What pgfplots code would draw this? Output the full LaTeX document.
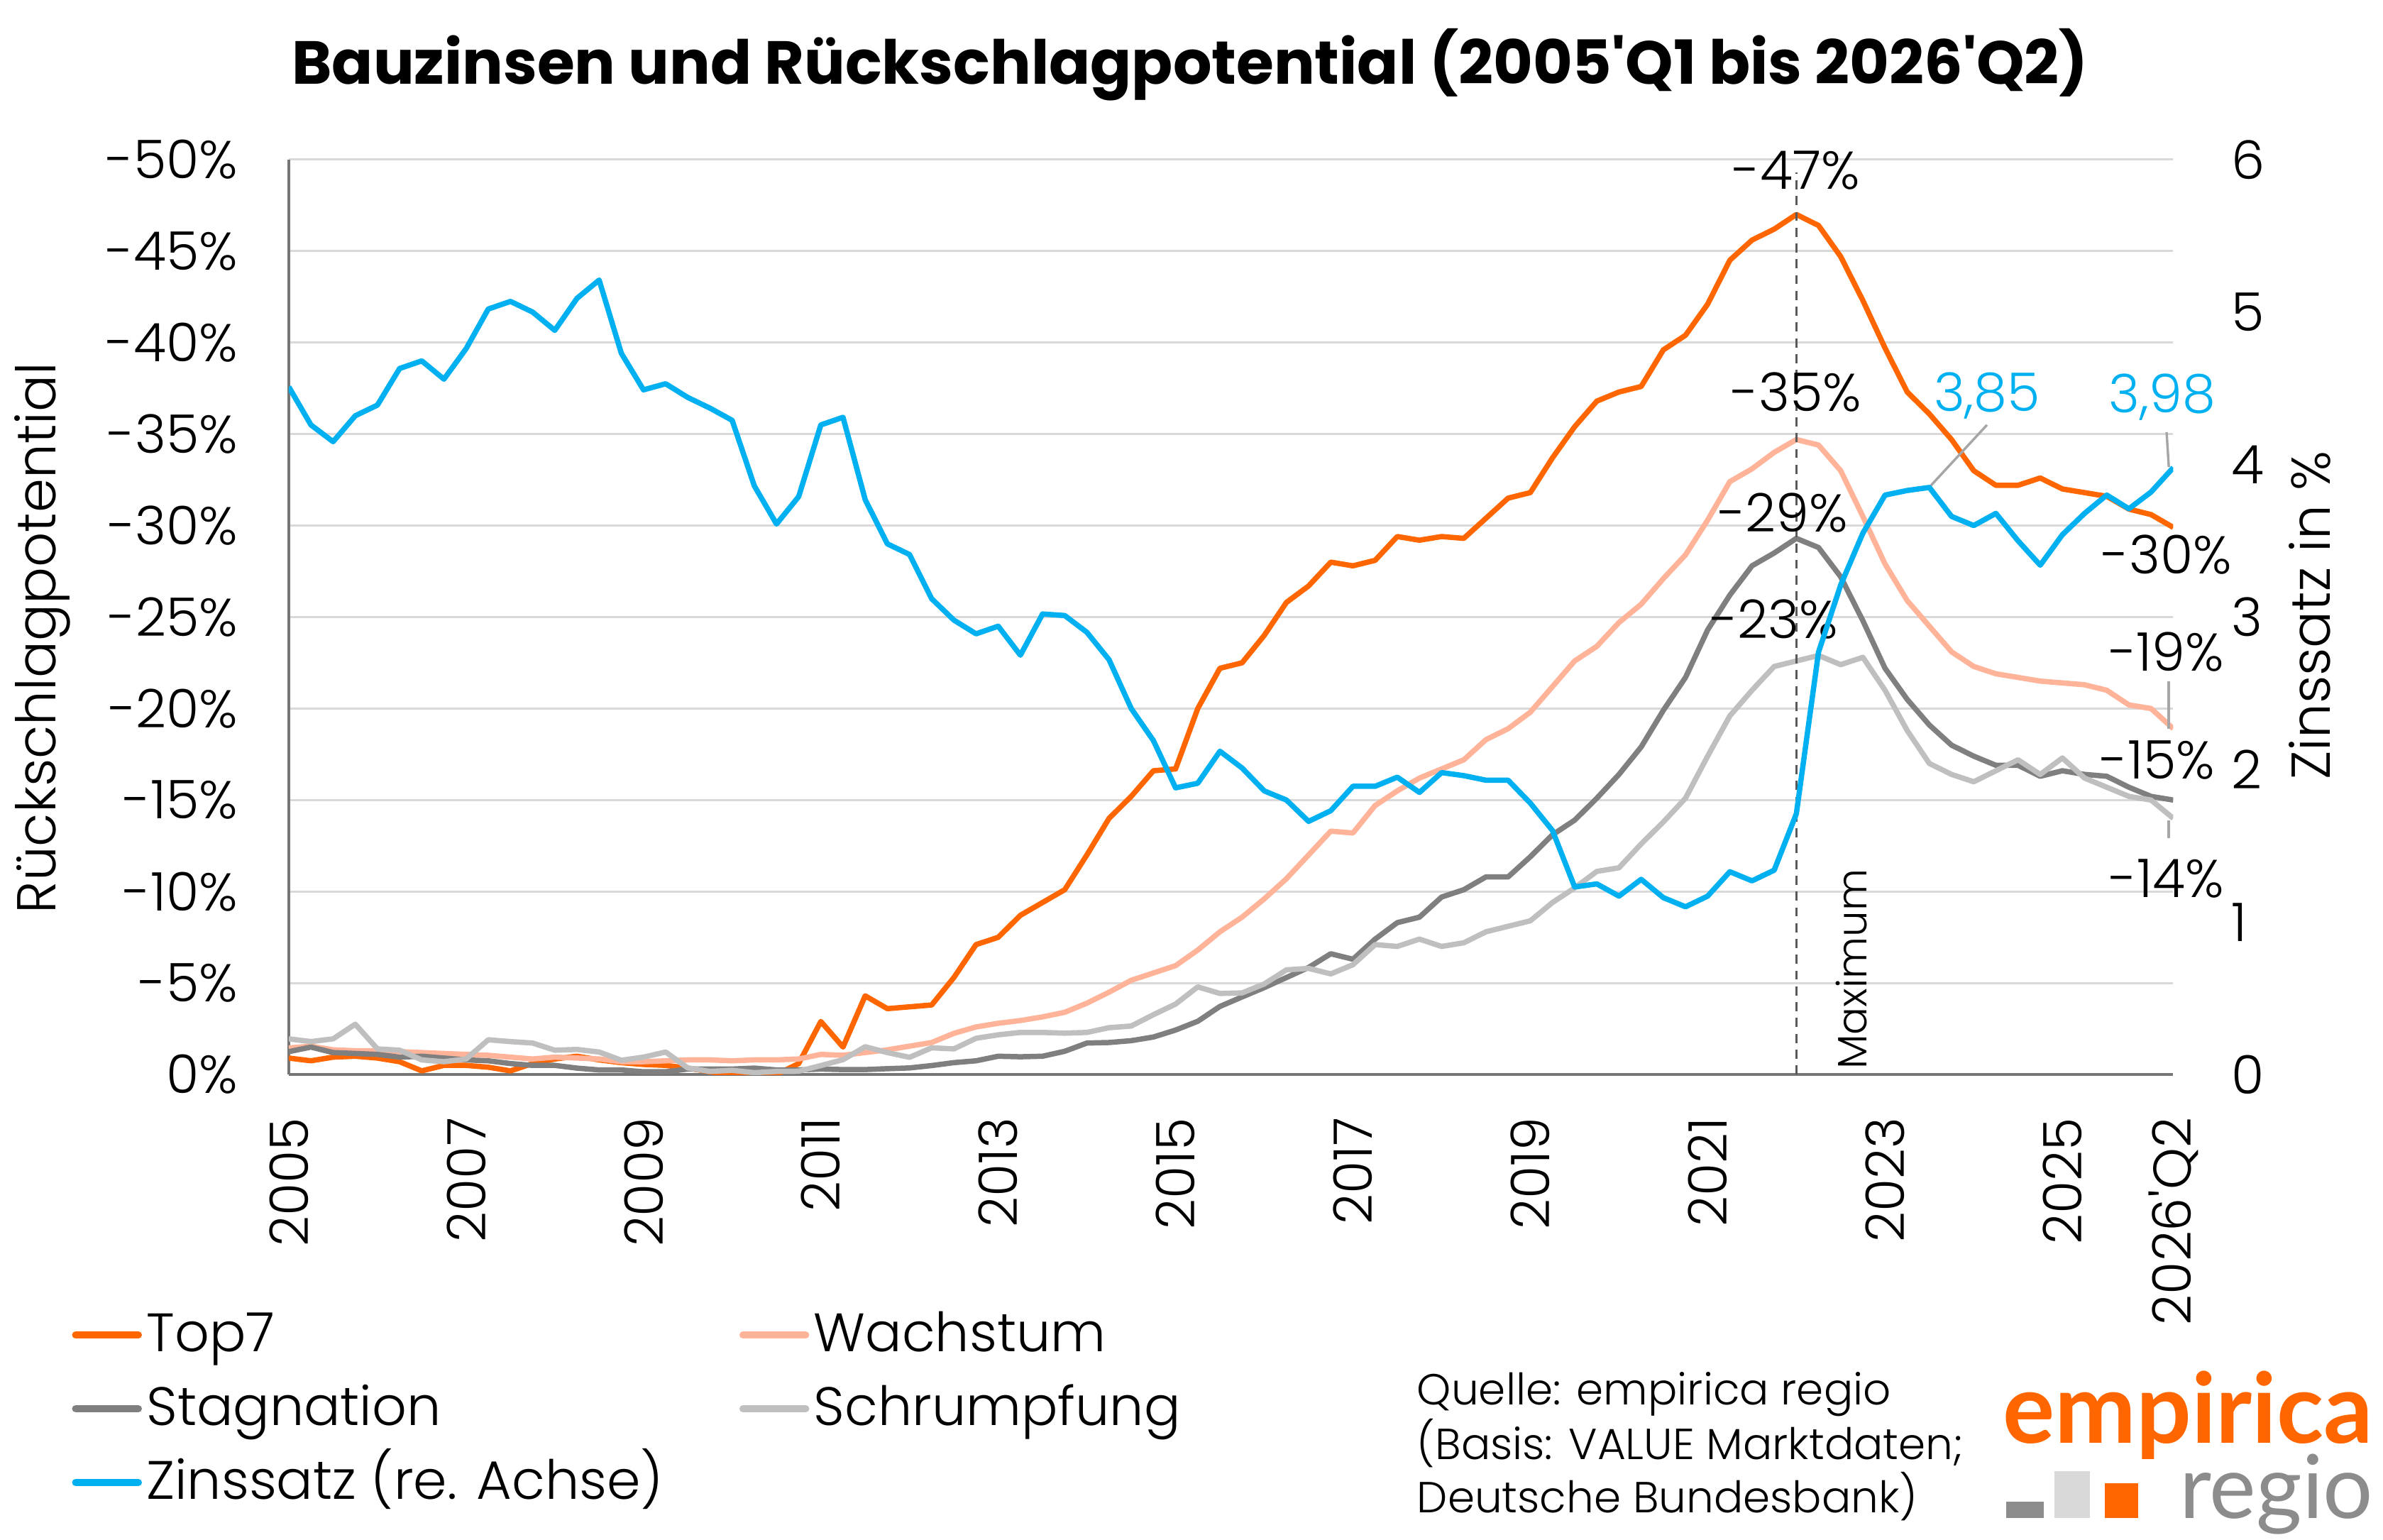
\documentclass[border=0pt]{standalone}
\usepackage{fontspec}
\setmainfont{Poppins}[UprightFont=* Light, BoldFont=* Bold]
\newfontfamily\logofont{Lato}
\usepackage{pgfplots}
\pgfplotsset{compat=1.18}
\usepackage{pgfplotstable}
\definecolor{ctop}{HTML}{FF6600}
\definecolor{cwach}{HTML}{FFB399}
\definecolor{cstag}{HTML}{7F7F7F}
\definecolor{cschr}{HTML}{BFBFBF}
\definecolor{czins}{HTML}{00B0F0}
\definecolor{cgrid}{HTML}{D9D9D9}
\definecolor{caxis}{HTML}{767676}
\definecolor{cdash}{HTML}{595959}
\definecolor{clead}{HTML}{A6A6A6}
\definecolor{cregio}{HTML}{8C8C8C}
\newcommand\tickf{\fontsize{17.5bp}{21bp}\selectfont}
\newcommand\labf{\fontsize{18bp}{21bp}\selectfont}
\newcommand\legf{\fontsize{17.8bp}{21bp}\selectfont}
\newcommand\srcf{\fontsize{14.3bp}{17bp}\selectfont}
\newcommand\maxf{\fontsize{13.5bp}{16bp}\selectfont}
\newcommand\titf{\fontsize{20bp}{24bp}\selectfont\bfseries}
\newcommand\ap{{\addfontfeatures{Ligatures=TeXOff}'}}
\pgfplotstableread{
i top7 wach stag schr zins
0 0.9 1.45 1.25 1.95 4.51
1 0.75 1.55 1.5 1.8 4.26
2 0.95 1.35 1.2 1.95 4.15
3 1.0 1.3 1.15 2.75 4.32
4 0.9 1.3 1.1 1.4 4.39
5 0.7 1.25 0.95 1.33 4.63
6 0.2 1.2 1.0 0.8 4.68
7 0.5 1.15 0.9 0.7 4.56
8 0.5 1.1 0.8 0.85 4.76
9 0.4 1.05 0.75 1.9 5.02
10 0.2 0.95 0.6 1.8 5.07
11 0.6 0.85 0.5 1.72 5.00
12 0.85 0.95 0.5 1.33 4.88
13 1.0 0.9 0.35 1.37 5.09
14 0.8 0.85 0.25 1.23 5.21
15 0.65 0.7 0.25 0.78 4.73
16 0.55 0.7 0.15 0.95 4.49
17 0.5 0.75 0.15 1.23 4.53
18 0.35 0.8 0.3 0.36 4.44
19 0.15 0.8 0.3 0.17 4.37
20 0.0 0.75 0.3 0.23 4.29
21 0.0 0.8 0.35 0.1 3.86
22 0.0 0.8 0.25 0.17 3.61
23 0.6 0.85 0.25 0.18 3.79
24 2.9 1.1 0.3 0.49 4.26
25 1.5 1.05 0.27 0.81 4.31
26 4.3 1.2 0.27 1.52 3.77
27 3.6 1.35 0.32 1.2 3.48
28 3.7 1.55 0.36 0.94 3.41
29 3.8 1.75 0.49 1.46 3.12
30 5.3 2.25 0.65 1.4 2.98
31 7.1 2.6 0.75 1.98 2.89
32 7.5 2.8 1.0 2.17 2.94
33 8.7 2.95 0.97 2.3 2.75
34 9.4 3.15 1.0 2.3 3.02
35 10.1 3.4 1.27 2.26 3.01
36 12.0 3.9 1.72 2.3 2.90
37 14.0 4.5 1.75 2.56 2.72
38 15.2 5.15 1.85 2.65 2.40
39 16.6 5.55 2.05 3.27 2.19
40 16.7 5.95 2.43 3.85 1.88
41 20.0 6.8 2.91 4.79 1.91
42 22.2 7.8 3.72 4.43 2.12
43 22.5 8.6 4.24 4.46 2.01
44 24.0 9.6 4.75 4.95 1.86
45 25.8 10.7 5.3 5.72 1.80
46 26.7 12.0 5.85 5.8 1.66
47 28.0 13.3 6.6 5.5 1.73
48 27.8 13.2 6.3 6.0 1.89
49 28.1 14.7 7.4 7.1 1.89
50 29.4 15.5 8.3 7.0 1.95
51 29.2 16.2 8.6 7.4 1.85
52 29.4 16.7 9.7 7.0 1.98
53 29.3 17.2 10.1 7.2 1.96
54 30.4 18.3 10.8 7.8 1.93
55 31.5 18.9 10.8 8.1 1.93
56 31.8 19.8 11.9 8.4 1.78
57 33.7 21.2 13.1 9.4 1.60
58 35.4 22.6 13.9 10.2 1.23
59 36.8 23.4 15.1 11.1 1.25
60 37.3 24.7 16.4 11.3 1.17
61 37.6 25.7 17.9 12.6 1.28
62 39.6 27.1 19.9 13.8 1.16
63 40.4 28.4 21.7 15.1 1.10
64 42.1 30.3 24.3 17.4 1.17
65 44.5 32.4 26.2 19.6 1.33
66 45.6 33.1 27.8 21.0 1.27
67 46.2 34.0 28.5 22.3 1.34
68 47.0 34.7 29.3 22.6 1.71
69 46.4 34.4 28.8 22.9 2.77
70 44.7 33.0 27.2 22.4 3.21
71 42.3 30.5 24.8 22.8 3.55
72 39.7 27.9 22.2 21.0 3.80
73 37.3 25.9 20.5 18.8 3.83
74 36.1 24.5 19.1 17.0 3.85
75 34.7 23.1 18.0 16.4 3.66
76 33.0 22.3 17.4 16.0 3.60
77 32.2 21.9 16.9 16.6 3.68
78 32.2 21.7 16.9 17.2 3.50
79 32.6 21.5 16.3 16.4 3.34
80 32.0 21.4 16.6 17.3 3.54
81 31.8 21.3 16.4 16.2 3.68
82 31.6 21.0 16.3 15.7 3.80
83 30.9 20.2 15.7 15.2 3.71
84 30.6 20.0 15.2 15.0 3.82
85 29.9 18.9 15.0 14.0 3.98
}\data
\begin{document}
\begin{tikzpicture}
\begin{axis}[
  at={(0,0)}, anchor=south west,
  scale only axis, width=620bp, height=301bp,
  xmin=0, xmax=85, ymin=0, ymax=50,
  axis x line*=bottom, axis y line*=left,
  axis line style={draw=caxis, line width=0.9bp},
  ymajorgrids, grid style={draw=cgrid, line width=0.75bp},
  major tick length=0pt,
  clip mode=individual,
  ytick={0,5,...,50},
  yticklabels={0\%,-5\%,-10\%,-15\%,-20\%,-25\%,-30\%,-35\%,-40\%,-45\%,-50\%},
  yticklabel style={font=\tickf, anchor=east, inner sep=0pt},
  yticklabel shift=16.5bp,
  xtick={0,8,16,24,32,40,48,56,64,72,80,85},
  xticklabels={2005,2007,2009,2011,2013,2015,2017,2019,2021,2023,2025,2026\ap Q2},
  xticklabel style={font=\tickf, rotate=90, anchor=east, inner sep=0pt},
  xticklabel shift=14bp,
  ylabel={Rückschlagpotential},
  ylabel style={font=\labf, at={(axis description cs:-0.1306,0.477)}, anchor=center},
  legend columns=2,
  legend cell align=left,
  legend image code/.code={\draw[#1, line width=2.4bp, line cap=round] (1.2bp,0bp) -- (21.8bp,0bp);},
  legend style={at={(axis description cs:0,0)}, anchor=north west, xshift=-71.5bp, yshift=-76bp,
    draw=none, fill=none, inner sep=0pt, font=\legf, row sep=5.25bp,
    nodes={inner sep=0pt, text height=15bp, text depth=4bp},
    /tikz/every odd column/.append style={column sep=1.5bp},
    /tikz/every even column/.append style={column sep=25bp}},
]
\addplot[ctop, line width=1.75bp, line join=round] table[x=i, y=top7]{\data};
\addlegendentry{Top7}
\addplot[cwach, line width=1.75bp, line join=round] table[x=i, y=wach]{\data};
\addlegendentry{Wachstum}
\addplot[cstag, line width=1.75bp, line join=round] table[x=i, y=stag]{\data};
\addlegendentry{Stagnation}
\addplot[cschr, line width=1.75bp, line join=round] table[x=i, y=schr]{\data};
\addlegendentry{Schrumpfung}
\addlegendimage{czins, line width=1.75bp}
\addlegendentry{Zinssatz (re. Achse)}
\draw[cdash, line width=0.8bp, dash pattern=on 3bp off 2.2bp] (axis cs:68,0) -- (axis cs:68,49.3);
\node[font=\tickf] at (axis cs:68,49.4) {-47\%};
\node[font=\tickf] at (axis cs:68,37.3) {-35\%};
\node[font=\tickf] at (axis cs:67.4,30.7) {-29\%};
\node[font=\tickf] at (axis cs:67.0,24.9) {-23\%};
\node[font=\maxf, rotate=90, anchor=west] at (axis cs:70.5,-0.3) {Maximum};
\node[font=\tickf] at (axis cs:84.7,28.4) {-30\%};
\node[font=\tickf] at (axis cs:84.7,23.1) {-19\%};
\node[font=\tickf] at (axis cs:84.3,17.2) {-15\%};
\node[font=\tickf] at (axis cs:84.7,10.7) {-14\%};
\node[font=\tickf, text=czins] at (axis cs:76.6,37.1) {3,85};
\node[font=\tickf, text=czins] at (axis cs:84.5,37.0) {3,98};
\draw[clead, line width=0.8bp] (axis cs:76.6,35.5) -- (axis cs:74.0,32.1);
\draw[clead, line width=0.8bp] (axis cs:84.7,35.1) -- (axis cs:84.8,33.2);
\draw[clead, line width=0.8bp] (axis cs:84.8,21.5) -- (axis cs:84.8,18.9);
\draw[clead, line width=0.8bp] (axis cs:84.8,13.9) -- (axis cs:84.8,12.9);
\end{axis}
\begin{axis}[
  at={(0,0)}, anchor=south west,
  scale only axis, width=620bp, height=301bp,
  xmin=0, xmax=85, ymin=0, ymax=6,
  axis x line=none, axis y line*=right,
  y axis line style={draw=none},
  major tick length=0pt,
  ytick={0,1,2,3,4,5,6},
  yticklabels={0,1,2,3,4,5,6},
  yticklabel style={font=\tickf, anchor=west, inner sep=0pt},
  yticklabel shift=19bp,
  ylabel={Zinssatz in \%},
  ylabel style={font=\labf, at={(axis description cs:1.0726,0.502)}, anchor=center},
]
\addplot[czins, line width=1.75bp, line join=round] table[x=i, y=zins]{\data};
\end{axis}
\node[font=\titf, anchor=base] at (296.5bp,325.9bp) {Bauzinsen und Rückschlagpotential (2005\ap Q1 bis 2026\ap Q2)};
\node[font=\srcf, anchor=base west, inner sep=0pt] at (371bp,-108.75bp) {Quelle: empirica regio};
\node[font=\srcf, anchor=base west, inner sep=0pt] at (371bp,-126.7bp) {(Basis: VALUE Marktdaten;};
\node[font=\srcf, anchor=base west, inner sep=0pt] at (371bp,-144.2bp) {Deutsche Bundesbank)};
\node[font=\logofont\bfseries\fontsize{32bp}{36bp}\selectfont, text=ctop, anchor=base east, inner sep=0pt, text depth=0pt] at (686bp,-121.2bp) {empirica};
\node[font=\logofont\fontsize{29bp}{33bp}\selectfont, text=cregio, anchor=base east, inner sep=0pt, text height=18bp] at (686bp,-146.1bp) {regio};
\fill[cregio] (565bp,-146bp) rectangle (577.5bp,-140.5bp);
\fill[cgrid] (581bp,-146bp) rectangle (592.5bp,-130.5bp);
\fill[ctop] (597.5bp,-146bp) rectangle (608.5bp,-134.5bp);
\pgfresetboundingbox
\path[use as bounding box] (-95bp,-153bp) rectangle (689bp,353.5bp);
\end{tikzpicture}
\end{document}
